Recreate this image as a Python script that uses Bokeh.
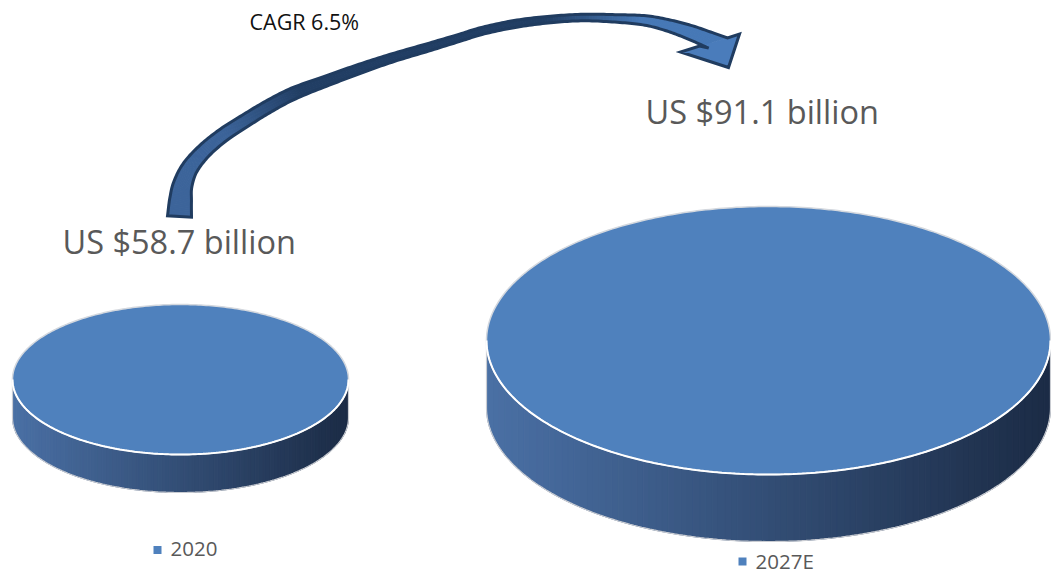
import numpy as np
from bokeh.plotting import figure
from bokeh.models import Range1d
from bokeh.embed import file_html
from bokeh.resources import INLINE
from bokeh.core.properties import value

# ---------------- data ----------------
years = ["2020", "2027E"]
market_usd_bn = [58.7, 91.1]
cagr_pct = 6.5
value_labels = [f"US ${v} billion" for v in market_usd_bn]
cagr_label = f"CAGR {cagr_pct}%"

# ---------------- layout (pixels) ----------------
W, H = 1051, 574
disk_cx = [180, 768]
disk_cy = [379, 340]
disk_rx = [168, 282]
disk_ry = [75, 134]
disk_depth = [38, 67]
label_x = [62, 645]
label_base = [252, 122]
legend_x = [157, 742]
legend_y = [549.5, 561]

TOP = "#4f81bd"
SIDE_L = (0x4a, 0x70, 0xa5)
SIDE_R = (0x1b, 0x2b, 0x45)
ARROW_DARK = "#203c60"
FONT = value("Open Sans")


def mid(baseline, fs):
    return baseline - 0.35 * fs


def mix(c1, c2, t):
    return "#%02x%02x%02x" % tuple(int(round(a + (b - a) * t)) for a, b in zip(c1, c2))


def hex2rgb(h):
    h = h.lstrip("#")
    return tuple(int(h[i:i + 2], 16) for i in (0, 2, 4))


p = figure(width=W, height=H, x_range=Range1d(0, W), y_range=Range1d(H, 0),
           output_backend="svg", toolbar_location=None, min_border=0,
           x_axis_location=None, y_axis_location=None)
p.grid.visible = False
p.outline_line_color = None
p.background_fill_color = "white"
p.border_fill_color = "white"

# ---------------- disks ----------------
for i in range(len(years)):
    cx, cy, rx, ry, d = disk_cx[i], disk_cy[i], disk_rx[i], disk_ry[i], disk_depth[i]
    N = 90
    edges = np.linspace(cx - rx, cx + rx, N + 1)
    xs_list, ys_list, cols = [], [], []
    for k in range(N):
        xx = np.linspace(edges[k], edges[k + 1], 8)
        yt = cy + ry * np.sqrt(np.clip(1 - ((xx - cx) / rx) ** 2, 0, 1))
        xs_list.append(list(xx) + list(xx[::-1]))
        ys_list.append(list(yt) + list((yt + d)[::-1]))
        cols.append(mix(SIDE_L, SIDE_R, (k + 0.5) / N))
    p.patches(xs_list, ys_list, fill_color=cols, line_color=cols, line_width=1)
    th = np.linspace(0, np.pi, 200)
    bx = cx + rx * np.cos(th)
    by = cy + d + ry * np.sin(th)
    ox = np.concatenate([[cx + rx], bx, [cx - rx]])
    oy = np.concatenate([[cy], by, [cy]])
    p.line(ox, oy, line_color="#c9ccd2", line_width=1.2)
    th2 = np.linspace(0, 2 * np.pi, 400)
    p.patch(cx + rx * np.cos(th2), cy + ry * np.sin(th2), fill_color=TOP,
            line_color="#d4d8de", line_width=1.5)
    p.line(cx + rx * np.cos(th), cy + ry * np.sin(th), line_color="white", line_width=2)

# ---------------- value labels ----------------
FS_VAL = 32.5
p.text(x=label_x, y=[mid(b, FS_VAL) for b in label_base], text=value_labels, text_font=FONT,
       text_font_size=f"{FS_VAL}px", text_color="#595959", text_baseline="middle")

# ---------------- legend ----------------
FS_LEG = 20.5
p.rect(x=legend_x, y=legend_y, width=8, height=8, fill_color=TOP, line_color=None)
p.text(x=[x + 13 for x in legend_x], y=[mid(y + 6.5, FS_LEG) for y in legend_y], text=years,
       text_font=FONT, text_font_size=f"{FS_LEG}px", text_color="#595959", text_baseline="middle")

# ---------------- curved CAGR arrow ----------------
ctrl = np.array([(179, 216), (180, 200), (182, 185), (189, 168), (203, 151), (222, 135),
                 (245, 120), (268, 106), (293, 93), (327, 80), (360, 68), (393, 57),
                 (427, 47), (460, 37), (483, 30), (517, 23), (550, 19), (583, 17),
                 (617, 18), (645, 20), (668, 25), (690, 32), (713, 41)], dtype=float)
outer_w = np.array([27, 25, 22, 19, 17, 16, 15.5, 15, 14.5, 13, 12, 11, 10.5, 10, 10, 10,
                    9.5, 9.5, 10.5, 12.5, 14.5, 17, 19], dtype=float)
LW = 3.0
poly_w = outer_w - LW


def catmull(P, w, n=12):
    Q = np.vstack([P[0] * 2 - P[1], P, P[-1] * 2 - P[-2]])
    pts, ws = [], []
    for i in range(1, len(Q) - 2):
        p0, p1, p2, p3 = Q[i - 1], Q[i], Q[i + 1], Q[i + 2]
        for t in np.linspace(0, 1, n, endpoint=False):
            t2, t3 = t * t, t * t * t
            pts.append(0.5 * ((2 * p1) + (-p0 + p2) * t + (2 * p0 - 5 * p1 + 4 * p2 - p3) * t2
                              + (-p0 + 3 * p1 - 3 * p2 + p3) * t3))
            ws.append(w[i - 1] + (w[i] - w[i - 1]) * t)
    pts.append(Q[-2])
    ws.append(w[-1])
    return np.array(pts), np.array(ws)


C, Wd = catmull(ctrl, poly_w)
dx = np.gradient(C[:, 0])
dy = np.gradient(C[:, 1])
nrm = np.hypot(dx, dy)
nx, ny = -dy / nrm, dx / nrm
inner = np.column_stack([C[:, 0] + nx * Wd / 2, C[:, 1] + ny * Wd / 2])
outer = np.column_stack([C[:, 0] - nx * Wd / 2, C[:, 1] - ny * Wd / 2])
# shaft end lies on the arrow head's base
inner[-1] = (699, 45.5)
outer[-1] = (727, 37.5)

stops_x = [0, 225, 300, 545, 640, 2000]
stops_c = [hex2rgb(c) for c in ["#3e679f", "#3b6399", "#213e64", "#213e64", "#4678b6", "#4a7cbb"]]


def grad_color(x):
    for j in range(len(stops_x) - 1):
        if stops_x[j] <= x <= stops_x[j + 1]:
            f = (x - stops_x[j]) / (stops_x[j + 1] - stops_x[j])
            return mix(stops_c[j], stops_c[j + 1], f)
    return mix(stops_c[-1], stops_c[-1], 0)


qx, qy, qc = [], [], []
for k in range(len(C) - 1):
    qx.append([inner[k, 0], inner[k + 1, 0], outer[k + 1, 0], outer[k, 0]])
    qy.append([inner[k, 1], inner[k + 1, 1], outer[k + 1, 1], outer[k, 1]])
    qc.append(grad_color((C[k, 0] + C[k + 1, 0]) / 2))
p.patches(qx, qy, fill_color=qc, line_color=qc, line_width=1)

wingA = (680, 51.5)
tip = (728, 67)
wingB = (739, 33.5)
head_x = [inner[-1, 0], wingA[0], tip[0], wingB[0], outer[-1, 0]]
head_y = [inner[-1, 1], wingA[1], tip[1], wingB[1], outer[-1, 1]]
p.patch(head_x, head_y, fill_color="#4a7cbb", line_color=None)

out_x = list(inner[:, 0]) + [wingA[0], tip[0], wingB[0]] + list(outer[::-1, 0])
out_y = list(inner[:, 1]) + [wingA[1], tip[1], wingB[1]] + list(outer[::-1, 1])
p.patch(out_x, out_y, fill_color=None, line_color=ARROW_DARK, line_width=LW, line_join="miter")

FS_CAGR = 21.5
p.text(x=[249], y=[mid(29, FS_CAGR)], text=[cagr_label], text_font=FONT,
       text_font_size=f"{FS_CAGR}px", text_color="#111111", text_baseline="middle")

open("out.html", "w").write(file_html(p, INLINE))
